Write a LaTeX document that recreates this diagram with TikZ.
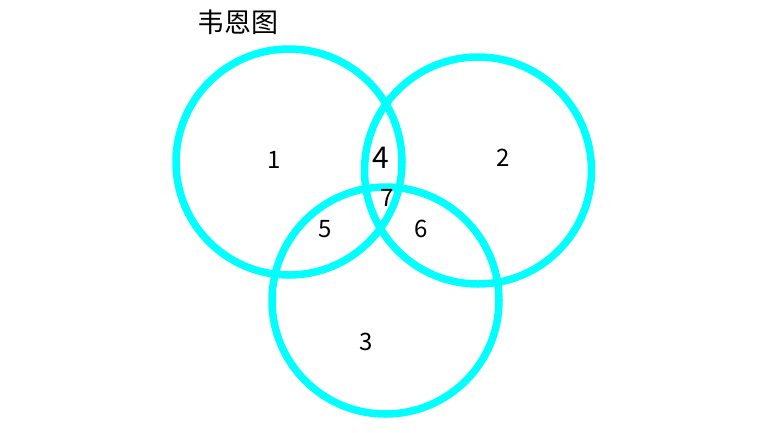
\documentclass[tikz,border=0pt]{standalone}
\usepackage{fontspec}
\newfontfamily\cjk{Noto Sans CJK SC}
\setmainfont{Noto Sans CJK SC}
\definecolor{vcyan}{RGB}{0,255,255}
\begin{document}
\begin{tikzpicture}[x=1pt,y=-1pt,
  ring/.style={draw=vcyan,line width=7.5pt},
  num/.style={inner sep=0pt,font=\fontsize{24}{24}\selectfont},
  bignum/.style={inner sep=0pt,font=\fontsize{30}{30}\selectfont}]
\useasboundingbox (0,0) rectangle (770,432);
\node[ring,circle,minimum size=226pt,inner sep=0pt] (c1) at (289,162) {};
\node[ring,circle,minimum size=227pt,inner sep=0pt] (c2) at (478,170.5) {};
\node[ring,circle,minimum size=227pt,inner sep=0pt] (c3) at (385.5,300.5) {};
\node[inner sep=0pt,font=\cjk\fontsize{27}{27}\selectfont] (title) at (238,22) {韦恩图};
\node[num] (n1) at (274,160) {1};
\node[num] (n2) at (503,158) {2};
\node[num] (n3) at (366,342) {3};
\node[bignum] (n4) at (381,158) {4};
\node[num] (n5) at (325,229) {5};
\node[num] (n6) at (421,229) {6};
\node[num] (n7) at (387,198) {7};
\end{tikzpicture}
\end{document}
